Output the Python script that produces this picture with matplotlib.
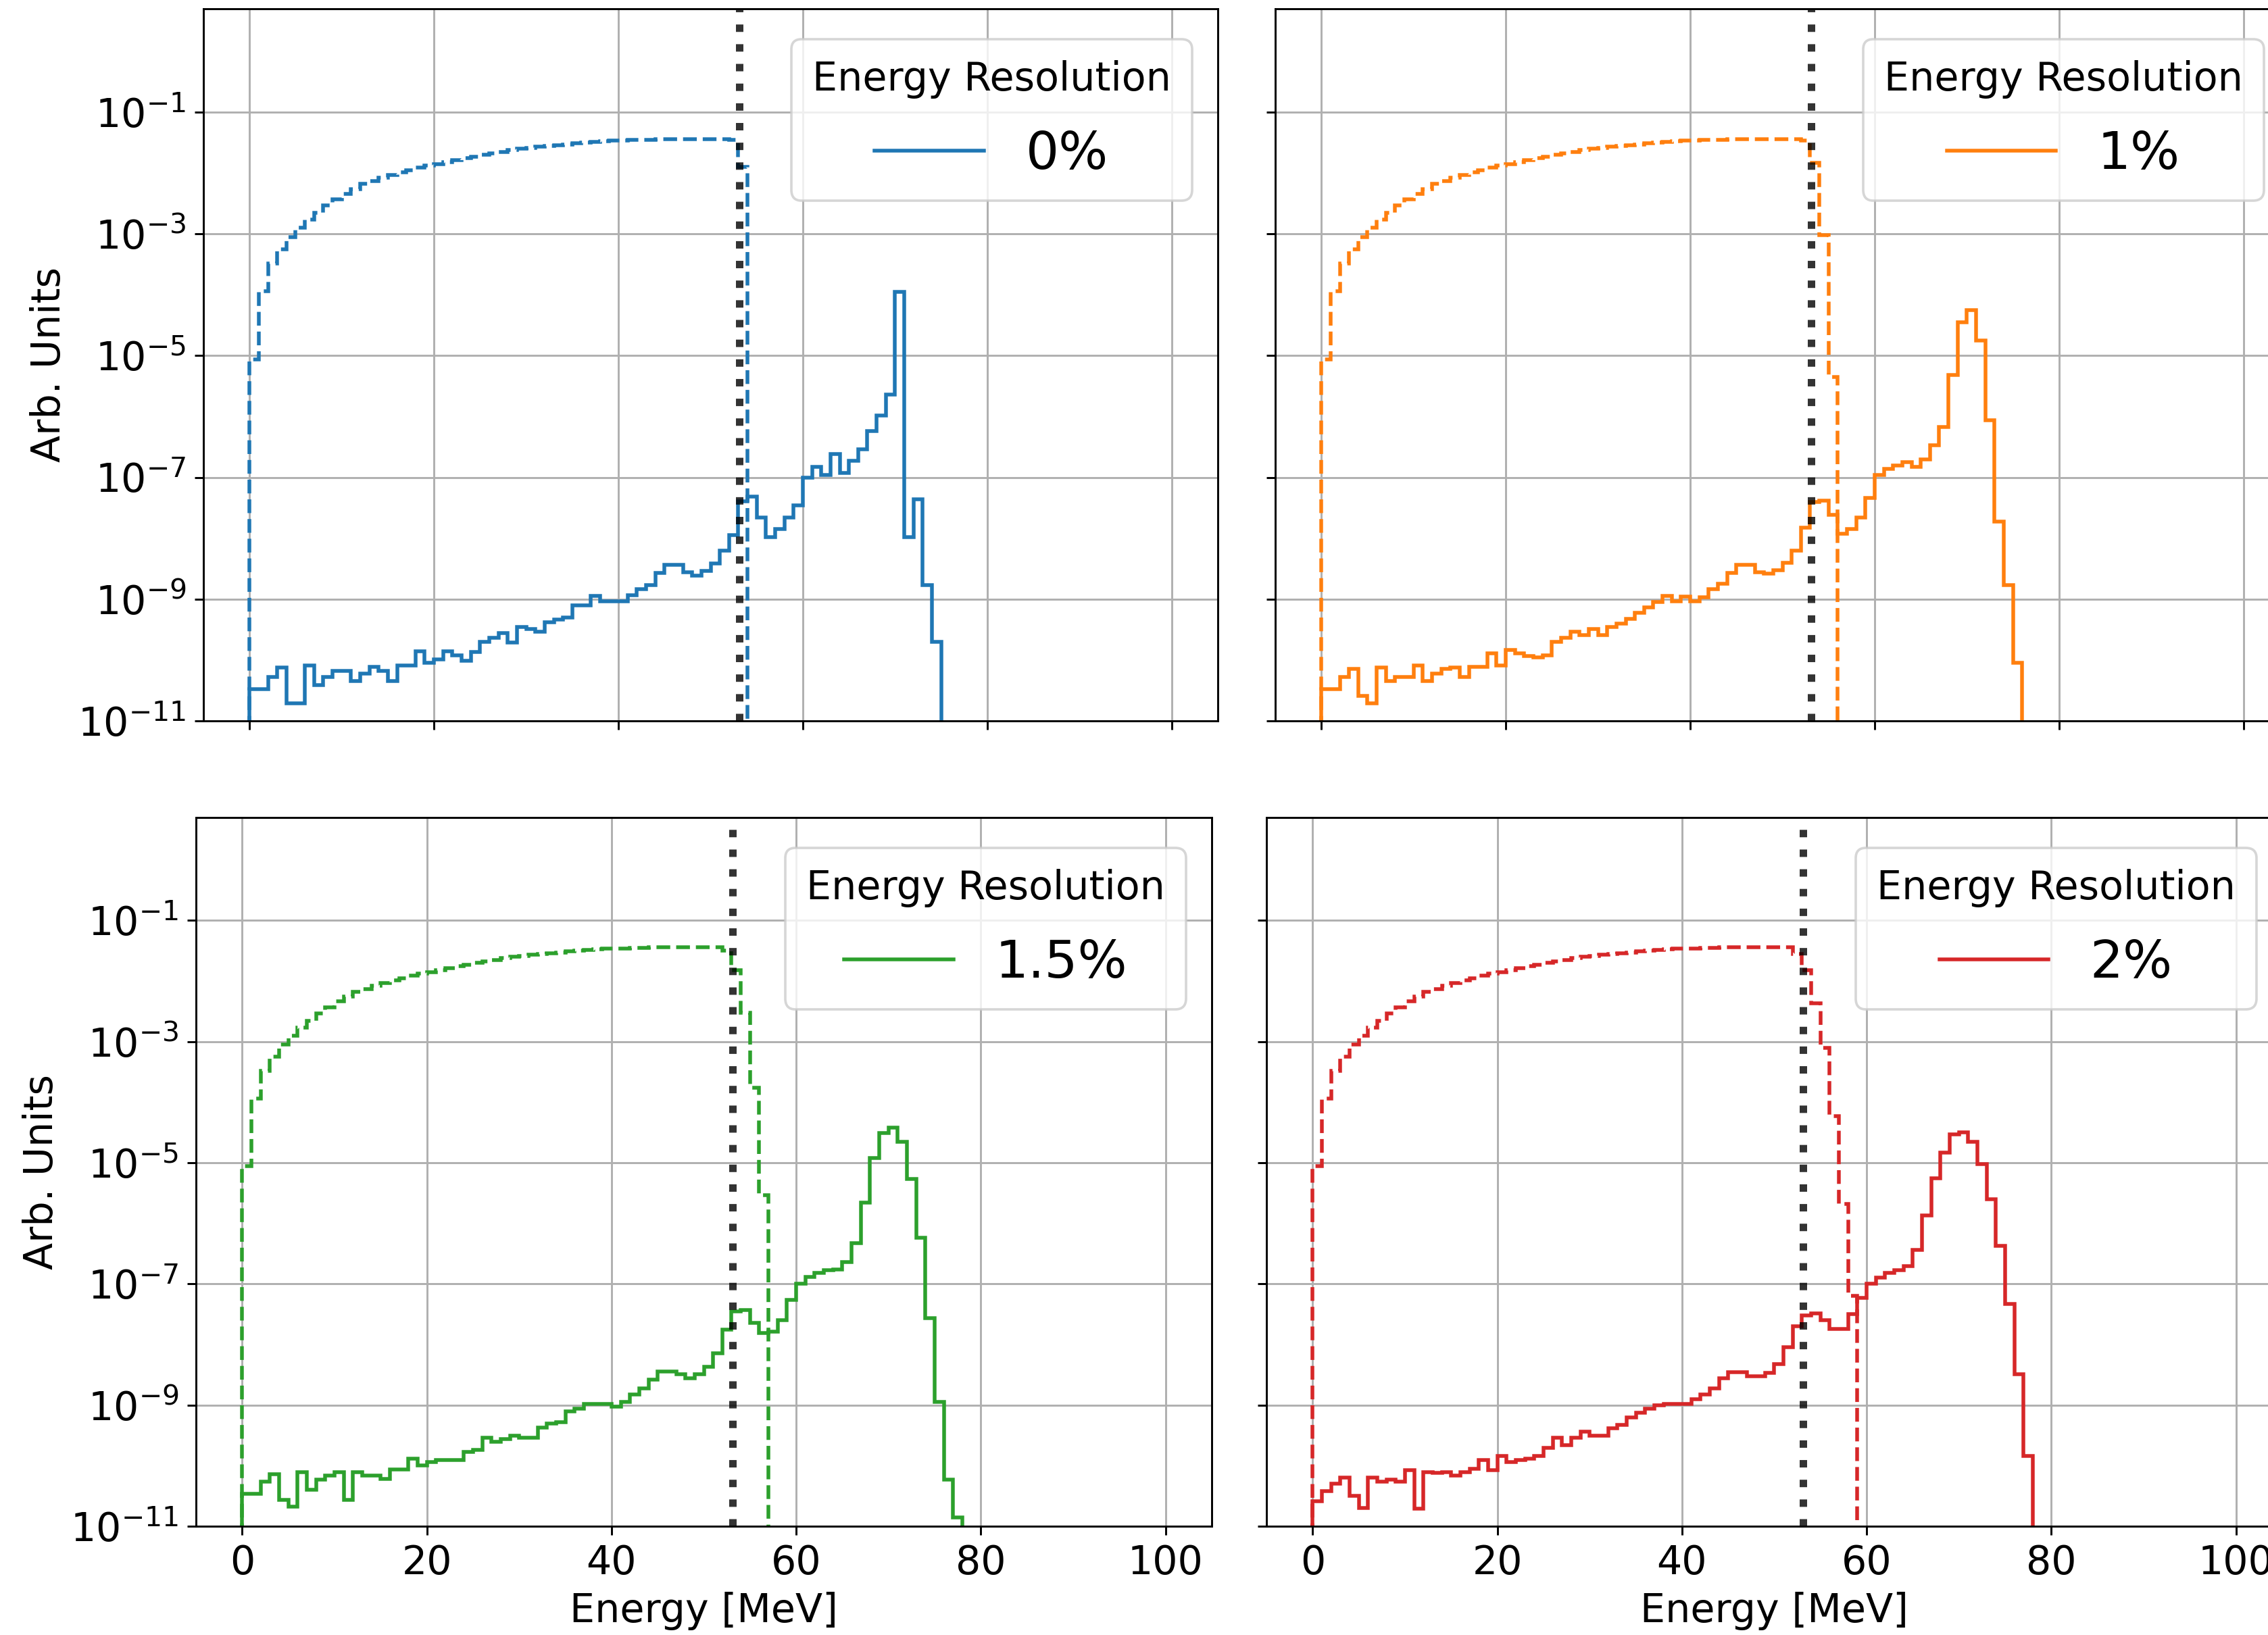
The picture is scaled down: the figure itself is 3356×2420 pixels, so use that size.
import numpy as np
import matplotlib
matplotlib.use("Agg")
import matplotlib.pyplot as plt
from matplotlib.ticker import NullLocator

DPI = 264
FIG_W, FIG_H = 3356, 2420

# ---------------------------------------------------------------------------
# Histogram contents, 1 MeV bins starting at 0 MeV
# ---------------------------------------------------------------------------
BIN_WIDTH = 1.0

# Michel spectrum (dashed), bins 0..51 are common to every resolution
michel_bulk = [
    8.7e-6, 1.15e-4, 3.3e-4, 5.6e-4, 8.9e-4, 1.26e-3, 1.7e-3, 2.2e-3, 2.95e-3, 3.7e-3,
    4.6e-3, 5.5e-3, 6.6e-3, 7.4e-3, 8.3e-3, 9.3e-3, 1.02e-2, 1.12e-2, 1.23e-2, 1.32e-2,
    1.41e-2, 1.51e-2, 1.62e-2, 1.74e-2, 1.86e-2, 2.0e-2, 2.09e-2, 2.24e-2, 2.4e-2, 2.51e-2,
    2.57e-2, 2.69e-2, 2.82e-2, 2.88e-2, 2.95e-2, 3.09e-2, 3.16e-2, 3.24e-2, 3.31e-2, 3.39e-2,
    3.39e-2, 3.47e-2, 3.55e-2, 3.55e-2, 3.63e-2, 3.63e-2, 3.63e-2, 3.63e-2, 3.63e-2, 3.63e-2,
    3.63e-2, 3.6e-2,
]
# Michel endpoint region (bins 52..) for each energy resolution
michel_tail_0 = [3.5e-2, 1.26e-2]
michel_tail_1 = [3.4e-2, 1.48e-2, 9.5e-4, 4.5e-6]
michel_tail_15 = [3.2e-2, 1.5e-2, 3.0e-3, 1.74e-4, 2.9e-6]
michel_tail_2 = [2.8e-2, 1.5e-2, 4.3e-3, 7.9e-4, 5.9e-5, 2.1e-6, 6.3e-8]

# Signal + background spectrum (solid)
spectrum_0 = [
    3.3e-11, 3.3e-11, 5.2e-11, 7.6e-11, 1.95e-11, 1.95e-11, 8.1e-11, 3.9e-11, 5.2e-11, 6.6e-11,
    6.6e-11, 4.5e-11, 6.0e-11, 7.8e-11, 6.6e-11, 4.5e-11, 8.1e-11, 8.1e-11, 1.38e-10, 9.1e-11,
    1.02e-10, 1.38e-10, 1.2e-10, 9.8e-11, 1.35e-10, 2.0e-10, 2.3e-10, 2.75e-10, 1.95e-10, 3.5e-10,
    3.2e-10, 2.95e-10, 4.2e-10, 4.6e-10, 5.0e-10, 7.9e-10, 7.9e-10, 1.12e-9, 9.3e-10, 9.3e-10,
    9.3e-10, 1.15e-9, 1.45e-9, 1.7e-9, 2.7e-9, 3.7e-9, 3.7e-9, 2.75e-9, 2.45e-9, 2.9e-9,
    3.9e-9, 6.2e-9, 1.12e-8, 4.1e-8, 4.8e-8, 2.2e-8, 1.05e-8, 1.41e-8, 2.2e-8, 3.5e-8,
    1.0e-7, 1.51e-7, 1.1e-7, 2.4e-7, 1.17e-7, 1.86e-7, 2.9e-7, 5.8e-7, 1.05e-6, 2.3e-6,
    1.12e-4, 1.05e-8, 4.4e-8, 1.7e-9, 2.0e-10,
]
spectrum_1 = [
    3.3e-11, 3.3e-11, 5.2e-11, 7.1e-11, 2.6e-11, 1.95e-11, 7.6e-11, 4.5e-11, 5.2e-11, 5.2e-11,
    8.1e-11, 4.5e-11, 6.0e-11, 7.1e-11, 7.6e-11, 5.2e-11, 7.8e-11, 7.8e-11, 1.29e-10, 8.1e-11,
    1.45e-10, 1.29e-10, 1.15e-10, 1.1e-10, 1.2e-10, 2.0e-10, 2.3e-10, 2.95e-10, 2.6e-10, 3.2e-10,
    2.6e-10, 3.5e-10, 4.0e-10, 4.7e-10, 5.9e-10, 7.4e-10, 8.9e-10, 1.12e-9, 9.3e-10, 1.1e-9,
    9.3e-10, 1.07e-9, 1.45e-9, 1.8e-9, 2.7e-9, 3.7e-9, 3.7e-9, 2.75e-9, 2.6e-9, 2.95e-9,
    4.0e-9, 6.3e-9, 1.51e-8, 3.9e-8, 4.2e-8, 2.4e-8, 1.2e-8, 1.41e-8, 2.2e-8, 4.6e-8,
    1.1e-7, 1.38e-7, 1.58e-7, 1.78e-7, 1.51e-7, 2.0e-7, 3.4e-7, 6.8e-7, 4.8e-6, 3.5e-5,
    5.6e-5, 1.78e-5, 8.7e-7, 1.9e-8, 1.7e-9, 8.9e-11,
]
spectrum_15 = [
    3.4e-11, 3.4e-11, 5.4e-11, 7.2e-11, 2.75e-11, 2.1e-11, 7.9e-11, 4.0e-11, 5.9e-11, 6.8e-11,
    7.9e-11, 2.75e-11, 7.9e-11, 6.8e-11, 6.8e-11, 6.0e-11, 8.7e-11, 8.7e-11, 1.29e-10, 1.0e-10,
    1.15e-10, 1.23e-10, 1.23e-10, 1.23e-10, 1.7e-10, 1.82e-10, 2.9e-10, 2.45e-10, 2.75e-10, 3.1e-10,
    2.9e-10, 2.9e-10, 4.2e-10, 4.9e-10, 5.2e-10, 7.8e-10, 8.7e-10, 1.05e-9, 1.05e-9, 1.05e-9,
    9.3e-10, 1.12e-9, 1.51e-9, 1.9e-9, 2.6e-9, 3.6e-9, 3.6e-9, 3.2e-9, 2.8e-9, 3.2e-9,
    4.3e-9, 7.2e-9, 1.74e-8, 3.5e-8, 3.7e-8, 2.3e-8, 1.55e-8, 1.62e-8, 2.5e-8, 5.4e-8,
    1.0e-7, 1.32e-7, 1.51e-7, 1.7e-7, 1.74e-7, 2.3e-7, 4.7e-7, 2.2e-6, 1.2e-5, 3.1e-5,
    3.8e-5, 2.2e-5, 5.4e-6, 5.8e-7, 2.75e-8, 1.12e-9, 5.9e-11, 1.38e-11,
]
spectrum_2 = [
    2.6e-11, 3.8e-11, 5.1e-11, 6.3e-11, 3.2e-11, 2.0e-11, 6.3e-11, 5.4e-11, 5.9e-11, 5.4e-11,
    8.5e-11, 1.95e-11, 7.9e-11, 7.6e-11, 7.9e-11, 6.9e-11, 7.9e-11, 8.9e-11, 1.23e-10, 8.5e-11,
    1.45e-10, 1.15e-10, 1.23e-10, 1.29e-10, 1.45e-10, 1.95e-10, 2.9e-10, 2.2e-10, 2.9e-10, 3.6e-10,
    3.1e-10, 3.1e-10, 4.1e-10, 4.7e-10, 6.2e-10, 7.4e-10, 8.7e-10, 9.8e-10, 1.05e-9, 1.05e-9,
    1.05e-9, 1.26e-9, 1.51e-9, 1.9e-9, 2.8e-9, 3.5e-9, 3.5e-9, 3.0e-9, 3.0e-9, 3.4e-9,
    4.8e-9, 9.1e-9, 2.0e-8, 3.0e-8, 3.3e-8, 2.5e-8, 1.82e-8, 1.82e-8, 3.2e-8, 5.9e-8,
    1.0e-7, 1.26e-7, 1.51e-7, 1.7e-7, 1.95e-7, 3.6e-7, 1.35e-6, 5.6e-6, 1.48e-5, 2.95e-5,
    3.2e-5, 2.2e-5, 9.5e-6, 2.5e-6, 4.2e-7, 4.7e-8, 3.2e-9, 1.45e-10,
]

resolution_labels = ["0%", "1%", "1.5%", "2%"]
michel_tails = [michel_tail_0, michel_tail_1, michel_tail_15, michel_tail_2]
spectra = [spectrum_0, spectrum_1, spectrum_15, spectrum_2]
colors = ["#1f77b4", "#ff7f0e", "#2ca02c", "#d62728"]

michel_endpoint = 53.1  # MeV

x_ticks = [0, 20, 40, 60, 80, 100]
y_ticks = [1e-11, 1e-9, 1e-7, 1e-5, 1e-3, 1e-1]

# Panel boxes in pixels: (left, top, right, bottom)
panel_px = [
    (301, 13, 1802, 1067),
    (1887, 13, 3388, 1067),
    (290, 1210, 1793, 2259),
    (1874, 1210, 3377, 2259),
]

plt.rcParams.update({
    "font.family": "DejaVu Sans",
    "font.size": 16,
    "axes.linewidth": 0.8,
})

fig = plt.figure(figsize=(FIG_W / DPI, FIG_H / DPI), dpi=DPI)

for i, (label, tail, spec, color) in enumerate(zip(resolution_labels, michel_tails, spectra, colors)):
    l, t, r, b = panel_px[i]
    ax = fig.add_axes([l / FIG_W, 1 - b / FIG_H, (r - l) / FIG_W, (b - t) / FIG_H])
    ax.set_yscale("log")

    michel = np.array(michel_bulk + tail)
    michel_edges = np.arange(len(michel) + 1) * BIN_WIDTH
    spec = np.array(spec)
    spec_edges = np.arange(len(spec) + 1) * BIN_WIDTH

    ax.stairs(michel, michel_edges, baseline=0, color=color, linestyle="--", linewidth=1.5)
    ax.stairs(spec, spec_edges, baseline=0, color=color, linewidth=1.5, label=label)
    ax.axvline(michel_endpoint, color="k", linestyle=":", linewidth=3, alpha=0.8)

    ax.set_xlim(-5, 105)
    ax.set_ylim(1e-11, 5)
    ax.set_xticks(x_ticks)
    ax.set_yticks(y_ticks)
    ax.yaxis.set_minor_locator(NullLocator())
    ax.xaxis.set_minor_locator(NullLocator())
    ax.grid(True, color="#b0b0b0", linewidth=0.8)
    ax.set_axisbelow(True)
    ax.tick_params(labelsize=16)

    if i % 2 == 0:
        ax.set_ylabel("Arb. Units", fontsize=16)
    else:
        ax.tick_params(labelleft=False)
    if i >= 2:
        ax.set_xlabel("Energy [MeV]", fontsize=16)
    else:
        ax.tick_params(labelbottom=False)

    ax.legend(title="Energy Resolution", fontsize=21, title_fontsize=16,
              loc="upper right", bbox_to_anchor=(1.0, 0.994),
              labelspacing=0.6, handlelength=2.1)

fig.savefig("out.png", dpi=DPI)
